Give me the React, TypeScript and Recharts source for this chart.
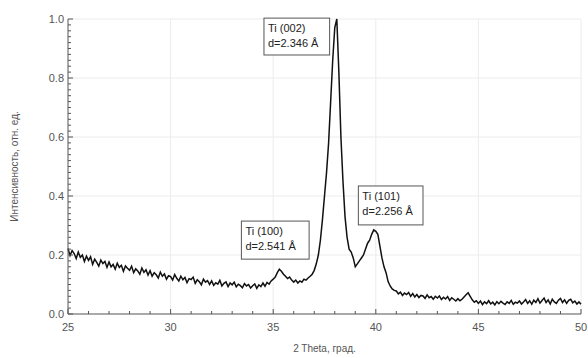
import React from 'react';
import { LineChart, Line, XAxis, YAxis, CartesianGrid, ReferenceArea, Label } from 'recharts';

// XRD scan: intensity sampled every 0.1 deg of 2 theta, starting at 25
const thetaStart = 25;
const thetaStep = 0.1;
const intensity = [
  0.222, 0.198, 0.215, 0.205, 0.188, 0.21, 0.192, 0.2, 0.178, 0.196,
  0.182, 0.194, 0.168, 0.186, 0.175, 0.162, 0.183, 0.171, 0.178, 0.158,
  0.176, 0.16, 0.168, 0.152, 0.172, 0.158, 0.165, 0.145, 0.163, 0.155,
  0.148, 0.162, 0.14, 0.153, 0.146, 0.135, 0.156, 0.141, 0.15, 0.132,
  0.147, 0.128, 0.14, 0.133, 0.122, 0.142, 0.128, 0.136, 0.118, 0.13,
  0.127, 0.115, 0.134, 0.121, 0.112, 0.128, 0.116, 0.124, 0.106, 0.12,
  0.117, 0.125, 0.104, 0.116, 0.109, 0.099, 0.118, 0.108, 0.113, 0.1,
  0.112, 0.097, 0.106, 0.101, 0.114, 0.095, 0.104, 0.109, 0.093, 0.105,
  0.099, 0.108, 0.092, 0.101, 0.096, 0.089, 0.103, 0.095, 0.1, 0.088,
  0.096, 0.102, 0.087, 0.099, 0.093, 0.105, 0.094, 0.107, 0.101, 0.112,
  0.118, 0.125, 0.14, 0.152, 0.145, 0.135, 0.128, 0.12, 0.125, 0.115,
  0.108, 0.115, 0.105, 0.112, 0.108, 0.118, 0.115, 0.122, 0.128, 0.135,
  0.148, 0.17, 0.2, 0.25, 0.32, 0.4, 0.48, 0.58, 0.72, 0.86,
  0.97, 1.0, 0.82, 0.6, 0.45, 0.33, 0.26, 0.22, 0.21, 0.19,
  0.16, 0.17, 0.18, 0.19, 0.2, 0.22, 0.24, 0.25, 0.27, 0.285,
  0.28, 0.27, 0.23, 0.19, 0.16, 0.14, 0.11, 0.095, 0.085, 0.08,
  0.078, 0.068, 0.074, 0.063, 0.071, 0.066, 0.073, 0.06, 0.069, 0.058,
  0.066, 0.056, 0.063, 0.061, 0.053, 0.065, 0.055, 0.059, 0.05, 0.06,
  0.054, 0.061, 0.049, 0.057, 0.051, 0.059, 0.046, 0.055, 0.05, 0.044,
  0.052, 0.045, 0.05, 0.058, 0.065, 0.072, 0.06, 0.048, 0.04, 0.045,
  0.036, 0.044, 0.032, 0.041, 0.035, 0.045, 0.034, 0.04, 0.031, 0.042,
  0.035, 0.043, 0.037, 0.032, 0.041, 0.036, 0.046, 0.033, 0.04, 0.037,
  0.044, 0.034, 0.041, 0.049, 0.036, 0.045, 0.033, 0.047, 0.039, 0.052,
  0.037, 0.046, 0.054, 0.039, 0.048, 0.034, 0.05, 0.041, 0.036, 0.047,
  0.053, 0.039, 0.048, 0.036, 0.046, 0.05, 0.038, 0.044, 0.034, 0.041,
  0.033,
];

const xLabels = [25, 30, 35, 40, 45, 50];
const yLabels = [0, 0.2, 0.4, 0.6, 0.8, 1.0];

// peak annotations, boxes given in data units
const peakNotes = [
  { title: 'Ti (002)', d: 'd=2.346 Å', x1: 34.55, x2: 37.75, y1: 0.878, y2: 1.003 },
  { title: 'Ti (100)', d: 'd=2.541 Å', x1: 33.45, x2: 36.75, y1: 0.186, y2: 0.315 },
  { title: 'Ti (101)', d: 'd=2.256 Å', x1: 39.15, x2: 42.3, y1: 0.302, y2: 0.434 },
];

const data = intensity.map((v, i) => ({
  theta: +(thetaStart + i * thetaStep).toFixed(1),
  intensity: v,
}));

const xTicks = Array.from({ length: 26 }, (_, i) => 25 + i);
const yTicks = Array.from({ length: 51 }, (_, i) => +(i * 0.02).toFixed(2));

const font = '"Liberation Sans", Arial, sans-serif';
const axisColor = '#555';

const XTick = (props: any) => {
  const { x, y, payload } = props;
  const v = payload.value;
  const major = xLabels.includes(v);
  return (
    <g>
      <line x1={x} y1={y} x2={x} y2={y - (major ? 5 : 3)} stroke={axisColor} />
      {major && (
        <text x={x} y={y + 17} textAnchor="middle" fontSize={11} fontFamily={font} fill={axisColor}>
          {v}
        </text>
      )}
    </g>
  );
};

const YTick = (props: any) => {
  const { x, y, payload } = props;
  const v = payload.value;
  const major = yLabels.some((l) => Math.abs(l - v) < 1e-6);
  return (
    <g>
      <line x1={x} y1={y} x2={x + (major ? 5 : 3)} y2={y} stroke={axisColor} />
      {major && (
        <text x={x - 4} y={y + 4} textAnchor="end" fontSize={11} fontFamily={font} fill={axisColor}>
          {v.toFixed(1)}
        </text>
      )}
    </g>
  );
};

const noteShape = (title: string, d: string) => (p: any) => (
  <g>
    <rect x={p.x} y={p.y} width={p.width} height={p.height} fill="#fff" stroke="#555" strokeWidth={1} />
    <text x={p.x + 4} y={p.y + 14} fontSize={11} fontFamily={font} fill="#222">
      {title}
    </text>
    <text x={p.x + 4} y={p.y + 29} fontSize={11} fontFamily={font} fill="#222">
      {d}
    </text>
  </g>
);

export default function App() {
  return (
    <div style={{ position: 'absolute', left: 0, top: 0, width: 588, height: 358, background: '#fff' }}>
      <LineChart width={588} height={358} data={data} margin={{ top: 19, right: 7, bottom: 14, left: 0 }}>
        <CartesianGrid
          horizontalValues={[0.2, 0.4, 0.6, 0.8, 1.0]}
          verticalValues={[30, 35, 40, 45, 50]}
          stroke="#ececec"
        />
        <XAxis
          dataKey="theta"
          type="number"
          domain={[25, 50]}
          ticks={xTicks}
          interval={0}
          height={30}
          tickSize={0}
          tickMargin={0}
          tickLine={false}
          tick={<XTick />}
          stroke={axisColor}
        >
          <Label
            content={(p: any) => (
              <text
                x={p.viewBox.x + p.viewBox.width / 2}
                y={352}
                textAnchor="middle"
                fontSize={10}
                fontFamily={font}
                fill={axisColor}
              >
                2 Theta, град.
              </text>
            )}
          />
        </XAxis>
        <YAxis
          type="number"
          domain={[0, 1]}
          ticks={yTicks}
          interval={0}
          width={68}
          tickSize={0}
          tickMargin={0}
          tickLine={false}
          tick={<YTick />}
          stroke={axisColor}
        >
          <Label
            content={(p: any) => {
              const cy = p.viewBox.y + p.viewBox.height / 2;
              return (
                <text
                  x={14}
                  y={cy}
                  transform={`rotate(-90, 14, ${cy})`}
                  textAnchor="middle"
                  dominantBaseline="central"
                  fontSize={10}
                  fontFamily={font}
                  fill={axisColor}
                >
                  Интенсивность, отн. ед.
                </text>
              );
            }}
          />
        </YAxis>
        <Line
          type="linear"
          dataKey="intensity"
          stroke="#111"
          strokeWidth={1.5}
          dot={false}
          isAnimationActive={false}
        />
        {peakNotes.map((n) => (
          <ReferenceArea
            key={n.title}
            x1={n.x1}
            x2={n.x2}
            y1={n.y1}
            y2={n.y2}
            ifOverflow="visible"
            shape={noteShape(n.title, n.d)}
          />
        ))}
      </LineChart>
    </div>
  );
}
